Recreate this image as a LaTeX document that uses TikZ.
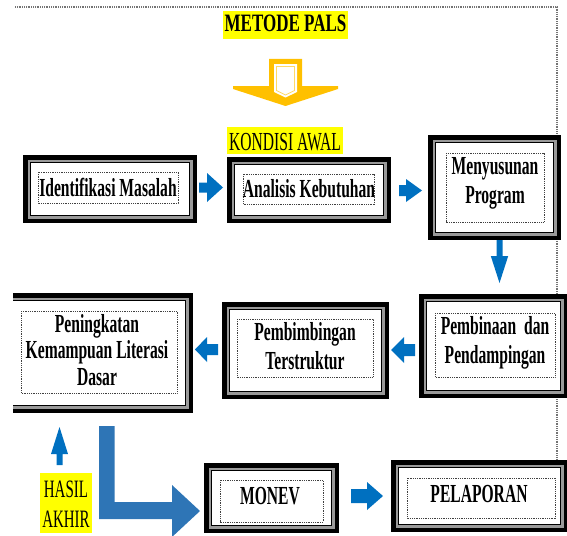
\documentclass[tikz,border=0pt]{standalone}
\usepackage{fontspec}
\setmainfont{Liberation Serif}[FakeStretch=0.6]
\newfontfamily\metf{Liberation Serif}[FakeStretch=0.68]
\usetikzlibrary{calc}
\definecolor{arrblue}{HTML}{0070C0}
\definecolor{lblue}{HTML}{2E75B6}
\definecolor{hl}{HTML}{FFFF00}
\definecolor{ayel}{HTML}{FFC000}
\definecolor{bandgray}{HTML}{9A9A9A}
\tikzset{
  txt/.style={font=\fontsize{26}{29}\selectfont\bfseries, align=center, inner sep=0pt},
  rtxt/.style={font=\fontsize{26}{30}\selectfont, align=center, inner sep=0pt},
  dotbox/.style={draw=black!75, line width=0.9pt, dash pattern=on 0.9pt off 0.9pt},
  dotline/.style={draw=black!55, line width=1.1pt, dash pattern=on 1pt off 0.8pt},
}
% framed box: name, x1, y1, x2, y2
\newcommand\framedbx[5]{%
  \fill[black] (#2,#3) rectangle (#4,#5);
  \fill[bandgray] ([shift={(4.5,4.5)}]#2,#3) rectangle ([shift={(-4.5,-4.5)}]#4,#5);
  \fill[black] ([shift={(7,7)}]#2,#3) rectangle ([shift={(-7,-7)}]#4,#5);
  \fill[white] ([shift={(8.3,8.3)}]#2,#3) rectangle ([shift={(-8.3,-8.3)}]#4,#5);
  \node[inner sep=0pt, minimum width={#4pt-#2pt}, minimum height={#5pt-#3pt}] (#1) at ({(#2+#4)/2},{(#3+#5)/2}) {};
}
% block arrow: cx, cy, angle, length, head length, head half width, shaft half width
\newcommand\blkarrow[7]{%
  \fill[arrblue, shift={(#1,#2)}, rotate=#3] (-#4/2,-#7) -- (#4/2-#5,-#7) -- (#4/2-#5,-#6) -- (#4/2,0) -- (#4/2-#5,#6) -- (#4/2-#5,#7) -- (-#4/2,#7) -- cycle;
}
\begin{document}
\begin{tikzpicture}[x=1pt,y=-1pt]
\useasboundingbox (0,0) rectangle (567,535);
\clip (0,0) rectangle (567,535);

% dotted outer frame
\draw[dotline] (15,7) -- (557,7) -- (557,462);

% title
\fill[hl] (223,11) rectangle (348,39);
\node[font=\fontsize{25}{28}\selectfont\metf\bfseries, inner sep=0pt, anchor=base] (metode) at (285.5,32) {METODE PALS};

% yellow arrow
\fill[ayel] (269,59) -- (302,59) -- (302,86) -- (338,86) -- (338,89) -- (285.5,106) -- (233,89) -- (233,86) -- (269,86) -- cycle;
\fill[white] (274,64) -- (297,64) -- (297,92) -- (285.5,97.5) -- (274,92) -- cycle;
\draw[ayel!60, line width=0.7pt] (276.5,66.5) -- (294.5,66.5) -- (294.5,90.5) -- (285.5,95) -- (276.5,90.5) -- cycle;

% kondisi awal
\fill[hl] (227,127) rectangle (343,154);
\node[rtxt, anchor=base] (kondisi) at (285,150) {KONDISI AWAL};

% boxes
\framedbx{idm}{23}{155}{197}{223}
\framedbx{ana}{227}{157}{391}{223}
\framedbx{men}{428}{135}{561}{240}
\framedbx{pmb}{419}{294}{568}{398}
\framedbx{pbs}{222}{302}{389}{399}
\begin{scope}
  \clip (13,0) rectangle (300,535);
  \framedbx{pkl}{5}{293}{193}{413}
\end{scope}
\framedbx{mon}{204}{463}{339}{533}
\framedbx{pel}{391}{460}{568}{532}

% dotted inner frames
\draw[dotbox] (38,172) rectangle (178,203);
\draw[dotbox] (243,174) rectangle (374,204);
\draw[dotbox] (446,153) rectangle (544,222);
\draw[dotbox] (435,313) rectangle (555,377);
\draw[dotbox] (237,319) rectangle (373,377);
\draw[dotbox] (21,311) rectangle (177,393);
\draw[dotbox] (220,480) rectangle (323,522);
\draw[dotbox] (407,478) rectangle (555,518);

% texts (multi-line nodes: base = last line)
\node[txt, anchor=base] (tidm) at (108,196) {Identifikasi Masalah};
\node[txt, anchor=base] (tana) at (309,197) {Analisis Kebutuhan};
\node[txt, anchor=base] (tmen) at (495,203) {Menyusunan\\Program};
\node[txt, anchor=base] (tpmb) at (495,363) {Pembinaan\hspace{4pt} dan\\Pendampingan};
\node[txt, anchor=base] (tpbs) at (305,369) {Pembimbingan\\Terstruktur};
\node[txt, font=\fontsize{26}{26.5}\selectfont\bfseries, anchor=base] (tpkl) at (97,385) {Peningkatan\\Kemampuan Literasi\\Dasar};
\node[txt, anchor=base] (tmon) at (270,504) {MONEV};
\node[txt, anchor=base] (tpel) at (479,502) {PELAPORAN};

% hasil akhir
\fill[hl] (40,473) rectangle (92,533);
\node[font=\fontsize{25}{30}\selectfont, align=center, inner sep=0pt, anchor=base] (hasil) at (66,527) {HASIL\\AKHIR};

% small blue arrows
\blkarrow{211}{187.5}{0}{24}{16}{14.5}{5}
\blkarrow{410.5}{190.5}{0}{23}{16}{11.5}{5.5}
\blkarrow{499.5}{261.5}{-90}{43}{27}{8.7}{3}
\blkarrow{403}{350}{180}{24}{13}{13}{6}
\blkarrow{206.5}{349.5}{180}{23}{12}{12.5}{5.5}
\blkarrow{59.5}{446}{90}{38}{27}{8.5}{3}
\blkarrow{367}{496}{0}{32}{16}{14}{7}

% big L arrow
\fill[lblue] (99,426) -- (114.5,426) -- (114.5,502) -- (172,502) -- (172,485) -- (200,511) -- (172,537) -- (172,519) -- (99,519) -- cycle;
\end{tikzpicture}
\end{document}
